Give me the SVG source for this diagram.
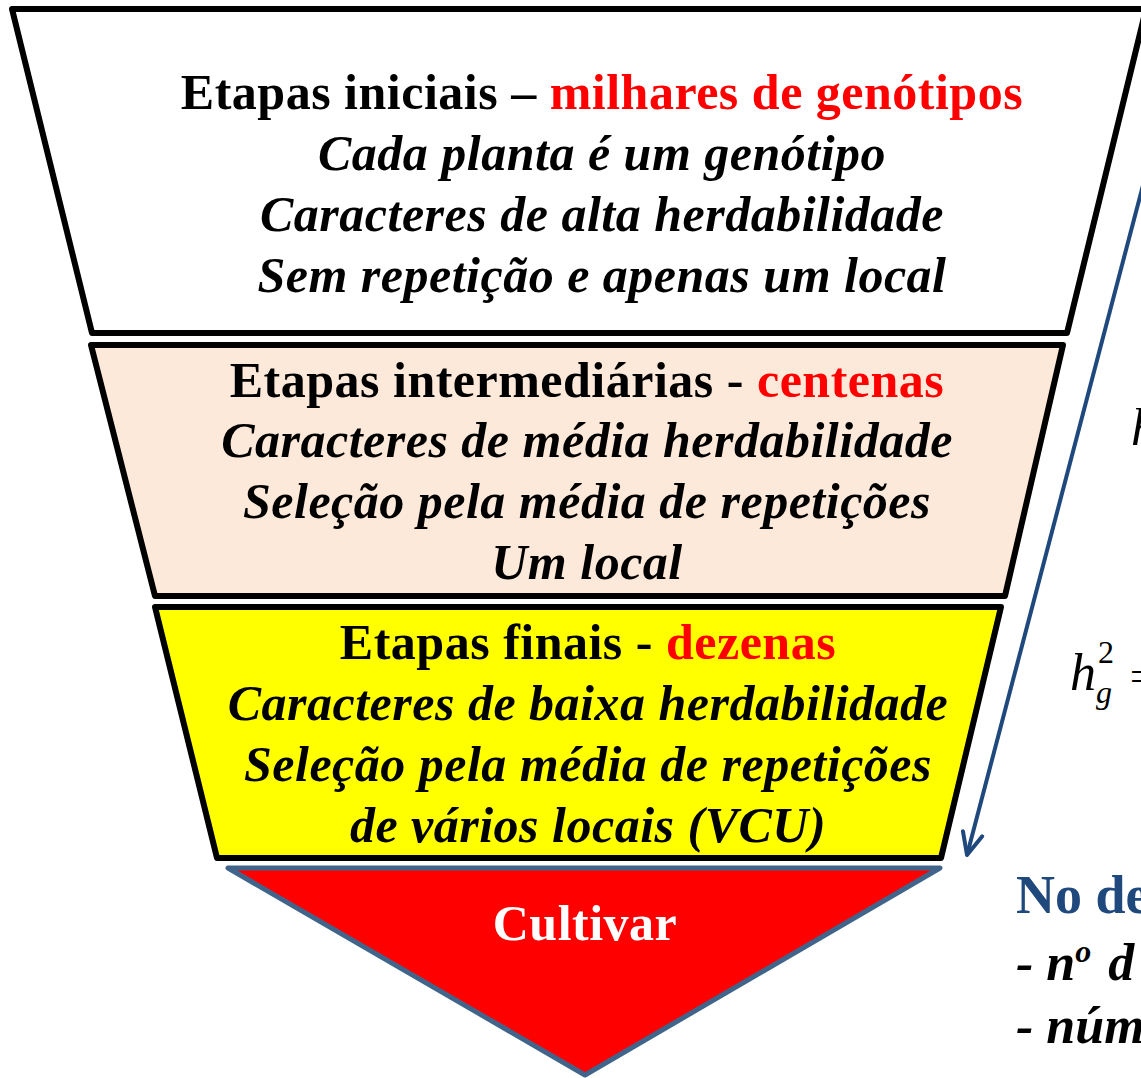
<svg xmlns="http://www.w3.org/2000/svg" width="1141" height="1078" viewBox="0 0 1141 1078">
<style>
.t{font-family:"Liberation Serif","Times New Roman",serif;font-size:50px;font-weight:bold;text-anchor:middle;fill:#000;letter-spacing:0.5px}
.i{font-style:italic}
.r{fill:#FF0000}
.box{stroke:#000;stroke-width:6;stroke-linejoin:round}
.side{font-family:"Liberation Serif","Times New Roman",serif;fill:#000}
</style>
<defs>
<marker id="ah" markerWidth="30" markerHeight="30" refX="24" refY="12" orient="auto" markerUnits="userSpaceOnUse" viewBox="0 0 30 24">
<path d="M2,2 L24,12 L2,22" fill="none" stroke="#1F497D" stroke-width="4" stroke-linecap="round" stroke-linejoin="round"/>
</marker>
</defs>
<g id="node-iniciais">
<polygon class="box" points="12,9 1146,9 1067,333 92,333" fill="#FFFFFF"/>
<text class="t" x="602" y="109">Etapas iniciais – <tspan class="r">milhares de genótipos</tspan></text>
<text class="t i" x="602" y="170">Cada planta é um genótipo</text>
<text class="t i" x="602" y="231">Caracteres de alta herdabilidade</text>
<text class="t i" x="602" y="292">Sem repetição e apenas um local</text>
</g>
<g id="node-intermediarias">
<polygon class="box" points="91,345 1063,345 1005,596 155,596" fill="#FDE9D9"/>
<text class="t" x="587" y="397">Etapas intermediárias - <tspan class="r">centenas</tspan></text>
<text class="t i" x="587" y="457">Caracteres de média herdabilidade</text>
<text class="t i" x="587" y="518">Seleção pela média de repetições</text>
<text class="t i" x="587" y="579">Um local</text>
</g>
<g id="node-finais">
<polygon class="box" points="155,607 1001,607 941,858 217,858" fill="#FFFF00"/>
<text class="t" x="588" y="659">Etapas finais - <tspan class="r">dezenas</tspan></text>
<text class="t i" x="588" y="720">Caracteres de baixa herdabilidade</text>
<text class="t i" x="588" y="781">Seleção pela média de repetições</text>
<text class="t i" x="588" y="842">de vários locais (VCU)</text>
</g>
<g id="node-cultivar">
<polygon points="228,868 940,868 585,1075" fill="#FF0000" stroke="#41658A" stroke-width="5" stroke-linejoin="round"/>
<text class="t" x="585" y="940" style="fill:#FFFFFF">Cultivar</text>
</g>
<g id="connectors">
<line x1="1147" y1="170" x2="967" y2="855" stroke="#1F497D" stroke-width="4" marker-end="url(#ah)"/>
</g>
<g id="side-texts">
<text class="side" x="1131" y="445" font-size="52" font-style="italic">h</text>
<text class="side" x="1070" y="690" font-size="52" font-style="italic">h</text>
<text class="side" x="1098" y="663" font-size="32">2</text>
<text class="side" x="1096" y="703" font-size="32" font-style="italic">g</text>
<text class="side" x="1130" y="690" font-size="42">=</text>
<text x="1016" y="913" font-family="Liberation Serif, Times New Roman, serif" font-size="54" font-weight="bold" fill="#1F497D">No de</text>
<text x="1016" y="980" font-family="Liberation Serif, Times New Roman, serif" font-size="52" font-weight="bold" font-style="italic" fill="#000">- n<tspan font-size="32" dy="-18">o</tspan><tspan dy="18" dx="4"> d</tspan></text>
<text x="1016" y="1043" font-family="Liberation Serif, Times New Roman, serif" font-size="52" font-weight="bold" font-style="italic" fill="#000">- núm</text>
</g>
</svg>
